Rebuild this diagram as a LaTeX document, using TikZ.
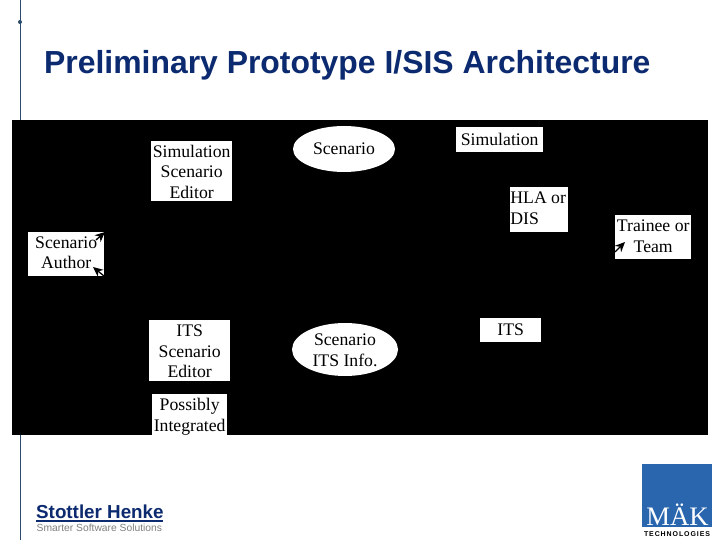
\documentclass[tikz,border=0pt]{standalone}
\usepackage{fontspec}
\setmainfont{Liberation Serif}
\newfontfamily\sansf{Liberation Sans}
\newfontfamily\sanstrack[LetterSpace=13]{Liberation Sans}
\usetikzlibrary{shapes.geometric,arrows.meta}
\definecolor{navy}{HTML}{0B2A6F}
\definecolor{rulec}{HTML}{2A4A6B}
\definecolor{makblue}{HTML}{2A66AE}
\definecolor{tagc}{HTML}{808080}
\newcommand\lowtext[2]{\raisebox{-#1}[\height][\depth]{\begin{tabular}{@{}c@{}}#2\end{tabular}}}
\tikzset{
  x=1pt,y=-1pt,
  boxw/.style={fill=white,inner sep=-5pt,align=center,font=\fontsize{17.7}{20.5}\selectfont,anchor=north west},
  ell/.style={ellipse,fill=white,inner sep=-6pt,align=center,font=\fontsize{17.7}{20.5}\selectfont},
  headarrow/.style={black,line width=1.3pt,-{Stealth[length=10pt,width=9pt]}},
}
\begin{document}
\begin{tikzpicture}
\useasboundingbox (0,0) rectangle (720,540);
\fill[white] (0,0) rectangle (720,540);
% slide frame
\coordinate (ruleTop) at (20.5,0);
\coordinate (ruleBot) at (20.5,540);
\draw[rulec,line width=1pt] (ruleTop) -- (ruleBot);
\fill[rulec] (20,22) circle (2);
\node[anchor=base west,inner sep=0pt,text=navy,font=\sansf\bfseries\fontsize{31.9}{34}\selectfont] (title) at (44,73.5) {Preliminary Prototype I/SIS Architecture};
% black panel
\fill[black] (12,120) rectangle (708,435);
% boxes
\node[boxw,minimum width=81pt,minimum height=60pt] (simed) at (151,141) {\lowtext{2.5pt}{Simulation\\Scenario\\Editor}};
\node[boxw,minimum width=87pt,minimum height=25pt] (sim) at (456,127) {Simulation};
\node[boxw,minimum width=58pt,minimum height=45pt] (hla) at (510,187) {\begin{tabular}{@{}l@{}}HLA or\\DIS\end{tabular}\hspace*{2pt}};
\node[boxw,minimum width=76pt,minimum height=44pt] (trainee) at (615,215) {\lowtext{0.5pt}{Trainee or\\Team}};
\node[boxw,minimum width=76pt,minimum height=44pt] (author) at (28,232) {\lowtext{0pt}{Scenario\\Author}};
\node[boxw,minimum width=61pt,minimum height=24pt] (its) at (480,318) {ITS};
\node[boxw,minimum width=81pt,minimum height=61pt] (itsed) at (149,320) {\lowtext{2.5pt}{ITS\\Scenario\\Editor}};
\node[boxw,minimum width=75pt,minimum height=41pt] (poss) at (152,394) {\lowtext{2pt}{Possibly\\Integrated}};
\node[ell,minimum width=102pt,minimum height=46pt] (scen) at (344,149) {Scenario};
\node[ell,minimum width=106pt,minimum height=53pt] (info) at (345,349.5) {\lowtext{2.5pt}{Scenario\\ITS Info.}};
% arrow tips of the connectors entering the people boxes
\coordinate (a1) at (96,240);
\coordinate (a1t) at (105,232);
\coordinate (a2) at (104,276);
\coordinate (a2t) at (93,267);
\coordinate (a3) at (615,252);
\coordinate (a3t) at (625,242);
\draw[headarrow] (a1) -- (a1t);
\draw[headarrow] (a2) -- (a2t);
\draw[headarrow] (a3) -- (a3t);
% logos
\node[anchor=base west,inner sep=0pt,text=navy,font=\sansf\bfseries\fontsize{18.8}{20}\selectfont] (sh) at (36,518) {Stottler Henke};
\draw[navy,line width=1.5pt] (36,521) -- (163,521);
\node[anchor=base west,inner sep=0pt,text=tagc,font=\sansf\fontsize{10.3}{12}\selectfont] (tag) at (36.5,531) {Smarter Software Solutions};
\fill[makblue] (642,464) rectangle (712,527);
\node[anchor=base,inner sep=0pt,text=white,font=\fontsize{26.7}{28}\selectfont] (mak) at (677.5,525.5) {MÄK};
\node[anchor=base,inner sep=0pt,text=black,font=\sanstrack\bfseries\fontsize{7}{8}\selectfont] (tech) at (677,536) {TECHNOLOGIES};
\end{tikzpicture}
\end{document}
